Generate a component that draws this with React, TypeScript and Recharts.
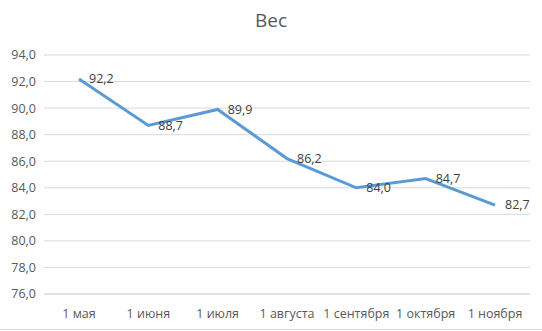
import React from 'react';
import { LineChart, Line, XAxis, YAxis, CartesianGrid, LabelList } from 'recharts';

const months = ['1 мая', '1 июня', '1 июля', '1 августа', '1 сентября', '1 октября', '1 ноября'];
const weights = [92.2, 88.7, 89.9, 86.2, 84.0, 84.7, 82.7];
const yTicks = [76, 78, 80, 82, 84, 86, 88, 90, 92, 94];

const data = months.map((m, i) => ({ month: m, weight: weights[i] }));

const fmt = (v: number) => v.toFixed(1).replace('.', ',');

const font = '"Open Sans", "Noto Sans", sans-serif';

const App: React.FC = () => {
  return (
    <div style={{ position: 'absolute', left: 0, top: 0, width: 542, height: 331, background: '#fff', fontFamily: font }}>
      <div style={{ position: 'absolute', top: 7, width: 542, textAlign: 'center', fontSize: 19, color: '#595959' }}>
        Вес
      </div>
      <div style={{ position: 'absolute', left: 0, top: 329, width: 542, height: 1, background: '#d9d9d9' }} />
      <LineChart width={542} height={331} data={data} margin={{ top: 55, right: 12, left: 0, bottom: 7 }}>
        <CartesianGrid vertical={false} stroke="#d9d9d9" />
        <XAxis
          dataKey="month"
          axisLine={{ stroke: '#d9d9d9' }}
          tickLine={false}
          height={30}
          tickMargin={9}
          padding={{ left: 35, right: 35 }}
          tick={{ fill: '#595959', fontSize: 12.5, fontFamily: font }}
          interval={0}
        />
        <YAxis
          domain={[76, 94]}
          ticks={yTicks}
          width={44}
          axisLine={false}
          tickLine={false}
          tickMargin={2}
          tickFormatter={fmt}
          tick={{ fill: '#595959', fontSize: 12.5, fontFamily: font }}
        />
        <Line
          type="linear"
          dataKey="weight"
          stroke="#5b9bd5"
          strokeWidth={3}
          dot={false}
          isAnimationActive={false}
        >
          <LabelList
            dataKey="weight"
            position="right"
            offset={10}
            formatter={(v: any) => fmt(Number(v))}
            style={{ fill: '#404040', fontSize: 12.5, fontFamily: font }}
          />
        </Line>
      </LineChart>
    </div>
  );
};

export default App;
